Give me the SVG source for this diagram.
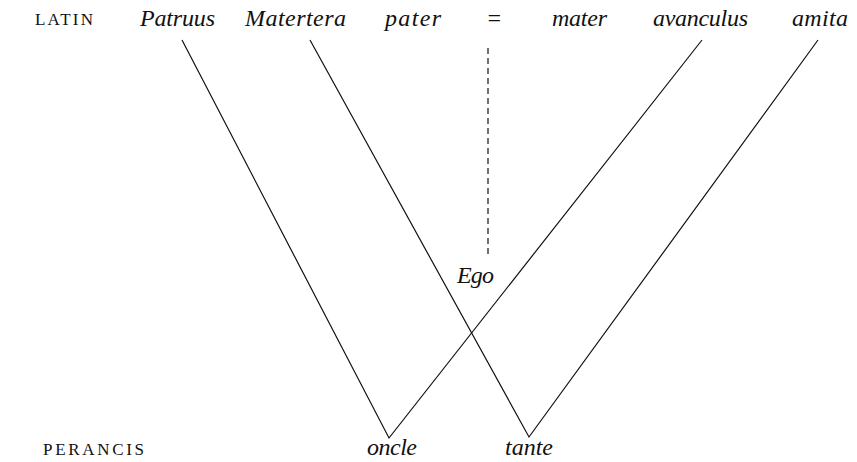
<svg xmlns="http://www.w3.org/2000/svg" width="857" height="462" viewBox="0 0 857 462">
<style>
.lbl{font-family:"Liberation Serif",serif;font-size:17px;fill:#111}
.it{font-family:"Liberation Serif",serif;font-style:italic;font-size:24px;fill:#111}
.ln{stroke:#111;stroke-width:1.2;fill:none}
</style>
<rect width="857" height="462" fill="#fff"/>
<g id="labels">
<text class="lbl" x="35" y="25" textLength="58" lengthAdjust="spacing">LATIN</text>
<text class="lbl" x="43" y="455" textLength="101" lengthAdjust="spacing">PERANCIS</text>
</g>
<g id="patruus"><text class="it" x="140" y="26" textLength="75" lengthAdjust="spacing">Patruus</text></g>
<g id="matertera"><text class="it" x="245" y="26" textLength="101" lengthAdjust="spacing">Matertera</text></g>
<g id="pater"><text class="it" x="385" y="26" textLength="56" lengthAdjust="spacing">pater</text></g>
<g id="eq"><text class="it" x="494" y="26" text-anchor="middle" font-style="normal">=</text></g>
<g id="mater"><text class="it" x="552" y="26" textLength="55" lengthAdjust="spacing">mater</text></g>
<g id="avanculus"><text class="it" x="653" y="26" textLength="95" lengthAdjust="spacing">avanculus</text></g>
<g id="amita"><text class="it" x="792" y="26" textLength="56" lengthAdjust="spacing">amita</text></g>
<g id="ego"><text class="it" x="457" y="283" textLength="37" lengthAdjust="spacing">Ego</text></g>
<g id="oncle"><text class="it" x="367" y="455" textLength="50" lengthAdjust="spacing">oncle</text></g>
<g id="tante"><text class="it" x="505" y="455" textLength="48" lengthAdjust="spacing">tante</text></g>
<g id="connectors">
<path class="ln" d="M182 40 L389 438 L702 40"/>
<path class="ln" d="M310 40 L529 437 L818 40"/>
<line class="ln" x1="488" y1="48" x2="488" y2="258" stroke-dasharray="6 4"/>
</g>
</svg>
